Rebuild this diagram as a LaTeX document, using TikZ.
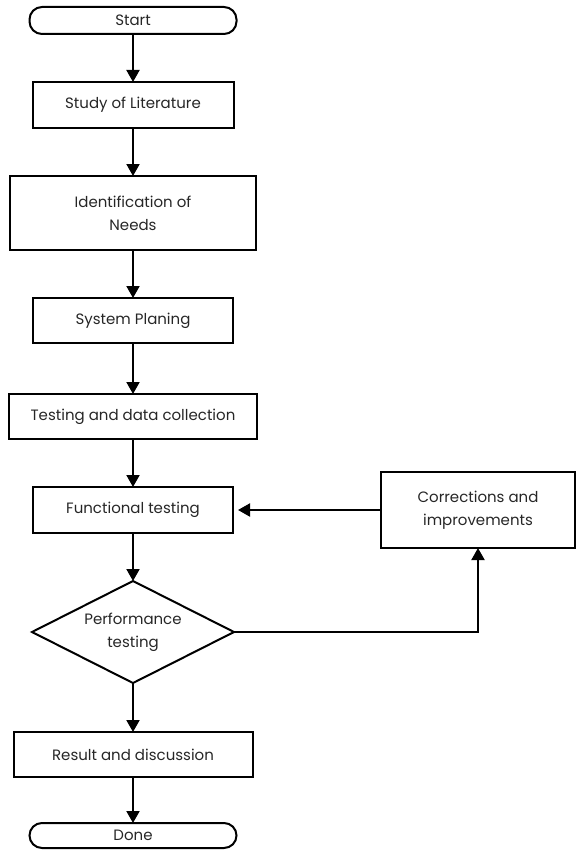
\documentclass[tikz,border=0pt]{standalone}
\usepackage{fontspec}
\setmainfont{Poppins}
\usetikzlibrary{positioning,shapes.geometric,arrows.meta}
\tikzstyle{bordered} = [align=center,draw,line width=2pt,outer sep=0,inner sep=1,font=\fontsize{15}{23}\selectfont,text=black!85]
\tikzstyle{terminal} = [bordered,rounded corners=12.5pt]
\tikzstyle{decision} = [bordered,diamond,aspect=2,inner sep=0]
\tikzstyle{arrow} = [-{Triangle[width=13pt,length=12pt]},line width=2pt]

\begin{document}
\begin{tikzpicture}[x=1pt,y=-1pt]
    \useasboundingbox (0,0) rectangle (576,851);
    \node [terminal,minimum width=207,minimum height=27] (start) at (133,20.5) {Start};
    \node [bordered,minimum width=201,minimum height=46] (study) at (133,105) {Study of Literature};
    \node [bordered,minimum width=246,minimum height=74] (needs) at (133,213) {Identification of\\Needs};
    \node [bordered,minimum width=200,minimum height=45] (plan) at (133,320.5) {System Planing};
    \node [bordered,minimum width=248,minimum height=45] (data) at (133,416.5) {Testing and data collection};
    \node [bordered,minimum width=200,minimum height=46] (func) at (133,510) {Functional testing};
    \node [bordered,minimum width=194,minimum height=76] (corr) at (478,510) {Corrections and\\improvements};
    \node [decision,minimum width=202,minimum height=102] (perf) at (133,632) {Performance\\testing};
    \node [bordered,minimum width=239,minimum height=45] (result) at (133,754.5) {Result and discussion};
    \node [terminal,minimum width=207,minimum height=25] (done) at (133,835.5) {Done};

    \draw [arrow] (start) -- (study);
    \draw [arrow] (study) -- (needs);
    \draw [arrow] (needs) -- (plan);
    \draw [arrow] (plan) -- (data);
    \draw [arrow] (data) -- (func);
    \draw [arrow] (func) -- (perf);
    \draw [arrow] (perf) -- (result);
    \draw [arrow] (result) -- (done);
    \draw [arrow] (perf.east) -| (corr.south);
    \draw [arrow,shorten >=5] (corr.west) -- (func.east);
  \end{tikzpicture}
\end{document}
